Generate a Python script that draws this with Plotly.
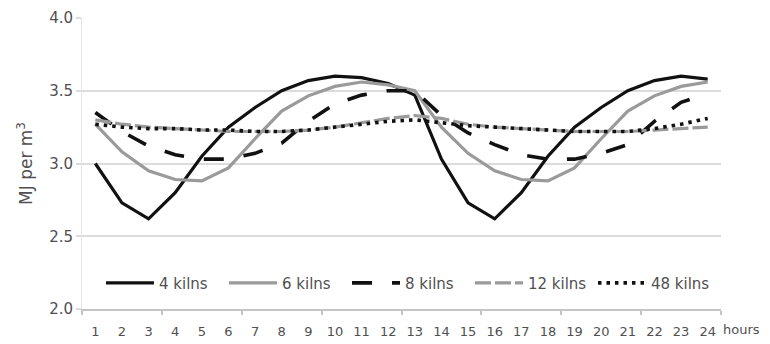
import plotly.graph_objects as go

hours = list(range(1, 25))
hour_labels = [str(h) for h in hours]
y_ticks = [2.0, 2.5, 3.0, 3.5, 4.0]
y_tick_labels = ["2.0", "2.5", "3.0", "3.5", "4.0"]

kilns4 = [3.00, 2.73, 2.62, 2.80, 3.05, 3.25, 3.385, 3.50, 3.57, 3.60, 3.59, 3.55,
          3.47, 3.03, 2.73, 2.62, 2.80, 3.05, 3.25, 3.385, 3.50, 3.57, 3.60, 3.58]
kilns6 = [3.27, 3.08, 2.95, 2.89, 2.88, 2.97, 3.17, 3.36, 3.465, 3.53, 3.56, 3.54,
          3.50, 3.25, 3.07, 2.95, 2.89, 2.88, 2.97, 3.17, 3.36, 3.465, 3.53, 3.56]
kilns8 = [3.35, 3.22, 3.12, 3.06, 3.03, 3.03, 3.07, 3.14, 3.29, 3.41, 3.47, 3.50,
          3.50, 3.33, 3.21, 3.13, 3.06, 3.03, 3.03, 3.07, 3.13, 3.29, 3.42, 3.48]
kilns12 = [3.30, 3.27, 3.25, 3.24, 3.23, 3.22, 3.22, 3.22, 3.23, 3.25, 3.28, 3.31,
           3.33, 3.31, 3.27, 3.25, 3.24, 3.23, 3.22, 3.22, 3.22, 3.23, 3.24, 3.25]
kilns48 = [3.27, 3.25, 3.24, 3.24, 3.23, 3.23, 3.22, 3.22, 3.23, 3.25, 3.27, 3.29,
           3.30, 3.28, 3.26, 3.25, 3.24, 3.23, 3.22, 3.22, 3.22, 3.24, 3.27, 3.31]

series_names = ["4 kilns", "6 kilns", "8 kilns", "12 kilns", "48 kilns"]
series_values = [kilns4, kilns6, kilns8, kilns12, kilns48]
styles = [
    dict(color="#111111", width=3.2, dash="solid"),
    dict(color="#9a9a9a", width=3.2, dash="solid"),
    dict(color="#111111", width=3.6, dash="20px,20px"),
    dict(color="#9a9a9a", width=3.2, dash="16px,4px"),
    dict(color="#111111", width=3.6, dash="3.5px,5px"),
]

FONT = "DejaVu Sans, Verdana, sans-serif"
TXT = "#505050"

fig = go.Figure()
for name, vals, st in zip(series_names, series_values, styles):
    fig.add_trace(go.Scatter(x=hours, y=vals, mode="lines", name=name, line=st))

fig.update_layout(
    width=770, height=344,
    margin=dict(l=82, r=49, t=18, b=35),
    paper_bgcolor="white", plot_bgcolor="white",
    font=dict(family=FONT, size=14, color=TXT),
    showlegend=True,
    legend=dict(orientation="h", x=0.0297, xanchor="left", y=0.089, yanchor="middle",
                bgcolor="rgba(0,0,0,0)", font=dict(size=15, color=TXT),
                itemwidth=48, entrywidth=60, tracegroupgap=0),
    xaxis=dict(range=[0.5, 24.5], tickmode="array", tickvals=hours, ticktext=hour_labels,
               showgrid=False, zeroline=False, showline=True, linecolor="#c4c4c4", linewidth=1.5,
               ticks="", ticklabelstandoff=10, tickfont=dict(size=13, color=TXT),
               automargin=False,
               minor=dict(tickmode="linear", tick0=0.5, dtick=3, ticks="outside", ticklen=4,
                          tickcolor="#c4c4c4", tickwidth=1.5, showgrid=False)),
    yaxis=dict(range=[2, 4], tickmode="array", tickvals=y_ticks, ticktext=y_tick_labels,
               showgrid=True, gridcolor="#dcdcdc", gridwidth=2, zeroline=False,
               showline=True, linecolor="#e4e4e4", linewidth=1,
               ticks="outside", ticklen=5, tickcolor="#dcdcdc", tickwidth=2,
               tickfont=dict(size=15, color=TXT), automargin=False,
               title=dict(text="MJ per m<sup>3</sup>", font=dict(size=17, color=TXT), standoff=12)),
)
fig.add_annotation(text="hours", xref="paper", yref="paper", x=1.0, y=-0.072,
                   xanchor="left", yanchor="middle", showarrow=False,
                   font=dict(size=13, color=TXT))

fig.write_html("out.html", config={"displayModeBar": False},
               post_script="document.body.style.margin='0px';document.body.style.overflow='hidden';")
